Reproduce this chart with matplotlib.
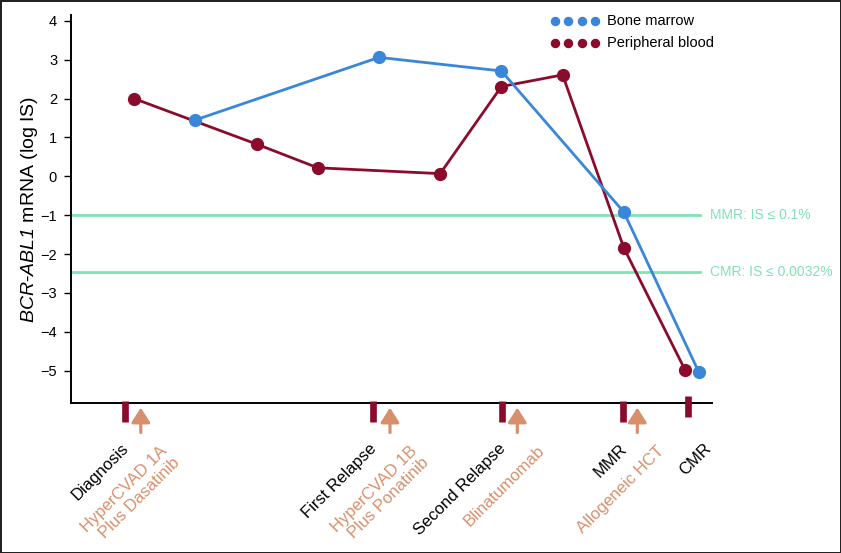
import matplotlib
matplotlib.use("Agg")
import matplotlib.pyplot as plt
import matplotlib.transforms as mtransforms

plt.rcParams['font.family'] = ['Liberation Sans', 'DejaVu Sans']
plt.rcParams['mathtext.fontset'] = 'custom'
plt.rcParams['mathtext.it'] = 'Liberation Sans:italic'
plt.rcParams['mathtext.rm'] = 'Liberation Sans:italic'

# ---- data ----
bm_x = [1, 4, 6, 8, 9.22]
bm_y = [1.45, 3.06, 2.71, -0.92, -5.02]
pb_x = [0, 2, 3, 5, 6, 7, 8, 9]
pb_y = [2.0, 0.83, 0.22, 0.07, 2.31, 2.61, -1.84, -4.98]

thresholds = [-1.0, -2.45]
threshold_labels = ["MMR: IS \u2264 0.1%", "CMR: IS \u2264 0.0032%"]

events = ["Diagnosis", "First Relapse", "Second Relapse", "MMR", "CMR"]
event_x = [-0.15, 3.9, 6.01, 7.99, 9.04]
treatments = ["HyperCVAD 1A\nPlus Dasatinib", "HyperCVAD 1B\nPlus Ponatinib",
              "Blinatumomab", "Allogeneic HCT"]
treat_x = [0.11, 4.18, 6.26, 8.22]

yticks = [-5, -4, -3, -2, -1, 0, 1, 2, 3, 4]
legend_labels = ["Bone marrow", "Peripheral blood"]

RED = '#8B0B2C'
BLUE = '#3A86D9'
GREEN = '#80E3B6'
TAN = '#D88F6B'

fig = plt.figure(figsize=(8.41, 5.53), dpi=100, edgecolor='#222222', linewidth=2)
ax = fig.add_axes([71/841, 150/553, (712-71)/841, (403-15)/553])

xlim = (-1.03, 9.44)
ax.set_xlim(*xlim)
ax.set_ylim(-5.83, 4.15)

for t in thresholds:
    ax.plot([xlim[0], 9.25], [t, t], color=GREEN, lw=2, zorder=1, clip_on=False)
for t, lab in zip(thresholds, threshold_labels):
    ax.text(9.4, t, lab, color=GREEN, fontsize=10, ha='left', va='center', clip_on=False)

ax.plot(pb_x, pb_y, color=RED, lw=2, marker='o', markersize=8.5, zorder=3)
ax.plot(bm_x, bm_y, color=BLUE, lw=2, marker='o', markersize=8.5, zorder=4)

ax.set_yticks(yticks)
ax.set_yticklabels([f"{v}".replace('-', '\u2212') for v in yticks], fontsize=10.5)
ax.tick_params(axis='y', length=5, width=1, pad=5)
ax.set_xticks([])
for s in ['top', 'right']:
    ax.spines[s].set_visible(False)
ax.spines['left'].set_linewidth(1.4)
ax.spines['bottom'].set_linewidth(1.4)

ax.set_ylabel(r'$BCR$-$ABL1$ mRNA (log IS)', fontsize=14, labelpad=0)

trans = mtransforms.blended_transform_factory(ax.transData, ax.transAxes)

# event bars
for i, x in enumerate(event_x):
    if events[i] == "CMR":
        y0, y1 = 0.018, -0.036
    else:
        y0, y1 = 0.005, -0.049
    ax.plot([x, x], [y0, y1], color=RED, lw=4.8, solid_capstyle='butt',
            transform=trans, clip_on=False, zorder=5)

# treatment arrows
for x in treat_x:
    ax.annotate('', xy=(x, -0.012), xytext=(x, -0.076), xycoords=trans, textcoords=trans,
                arrowprops=dict(arrowstyle='-|>,head_length=0.55,head_width=0.35',
                                color=TAN, lw=2.3, mutation_scale=16, shrinkA=0, shrinkB=0),
                annotation_clip=False)

# event labels
for lab, x in zip(events, event_x):
    dx = 16 if lab == "CMR" else -4
    ax.annotate(lab, xy=(x, 0), xycoords=trans, xytext=(dx, -38), textcoords='offset pixels',
                rotation=45, rotation_mode='anchor', ha='right', va='top',
                fontsize=12, color='black', annotation_clip=False)

for lab, x in zip(treatments, treat_x):
    ax.annotate(lab, xy=(x, 0), xycoords=trans, xytext=(19, -40), textcoords='offset pixels',
                rotation=45, rotation_mode='anchor', ha='right', va='top', multialignment='right',
                linespacing=1.2, fontsize=12, color=TAN, annotation_clip=False)

# legend
leg_colors = [BLUE, RED]
leg_y = [0.985, 0.928]
dot_x = [(555-71)/641, (568-71)/641, (582-71)/641, (595-71)/641]
for c, yy, lab in zip(leg_colors, leg_y, legend_labels):
    ax.plot(dot_x, [yy]*4, linestyle='none', marker='o', markersize=5.8, color=c,
            transform=ax.transAxes, clip_on=False)
    ax.text((607-71)/641, yy, lab, transform=ax.transAxes, fontsize=10.5, va='center', ha='left')

fig.savefig('out.png', dpi=100, edgecolor=fig.get_edgecolor())
